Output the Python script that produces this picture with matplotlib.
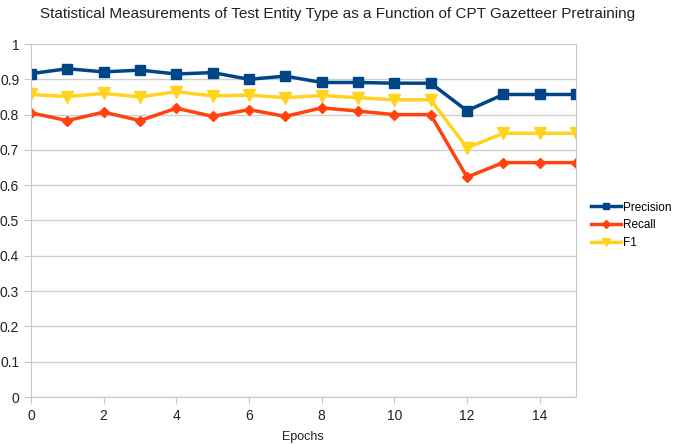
import matplotlib
matplotlib.use("Agg")
import matplotlib.pyplot as plt

epochs = list(range(16))
precision = [0.916, 0.930, 0.921, 0.926, 0.915, 0.919, 0.900, 0.909, 0.891, 0.891, 0.889, 0.889, 0.811, 0.857, 0.857, 0.857]
recall = [0.805, 0.783, 0.807, 0.783, 0.818, 0.795, 0.814, 0.795, 0.819, 0.810, 0.800, 0.800, 0.623, 0.664, 0.664, 0.664]
f1 = [0.857, 0.851, 0.860, 0.850, 0.865, 0.853, 0.855, 0.848, 0.854, 0.848, 0.842, 0.842, 0.706, 0.747, 0.747, 0.747]
yticks = [0, 0.1, 0.2, 0.3, 0.4, 0.5, 0.6, 0.7, 0.8, 0.9, 1]
ylabels = ["0", "0.1", "0.2", "0.3", "0.4", "0.5", "0.6", "0.7", "0.8", "0.9", "1"]
xticks = [0, 2, 4, 6, 8, 10, 12, 14]

plt.rcParams['font.family'] = ['Liberation Sans', 'DejaVu Sans']

fig = plt.figure(figsize=(6.73, 4.44), dpi=100)
ax = fig.add_axes([31/673, 1 - 397/444, (576-31)/673, (397-44)/444])

ax.plot(epochs, precision, color="#004586", marker="s", markersize=6.5, linewidth=2.5, label="Precision")
ax.plot(epochs, recall, color="#ff420e", marker="D", markersize=5, linewidth=2.5, label="Recall")
ax.plot(epochs, f1, color="#ffd320", marker="v", markersize=8, linewidth=2.5, label="F1")

ax.set_xlim(0, 15)
ax.set_ylim(0, 1)
ax.set_yticks(yticks)
ax.set_yticklabels(ylabels)
ax.set_xticks(xticks)
ax.grid(axis="y", color="#d0d0d0", linewidth=1)
ax.set_axisbelow(True)
for s in ax.spines.values():
    s.set_color("#c8c8c8")
ax.spines["top"].set_visible(False)
ax.tick_params(axis="both", colors="#c8c8c8", labelcolor="#222222", labelsize=10, length=5)

fig.text(303/673, 1 - 437/444, "Epochs", ha="center", va="center", fontsize=9, color="#222222")
fig.text(338/673, 1 - 14/444, "Statistical Measurements of Test Entity Type as a Function of CPT Gazetteer Pretraining",
         ha="center", va="center", fontsize=11, color="#222222")

leg = ax.legend(loc="center left", bbox_to_anchor=(1.028, 0.486), frameon=False, fontsize=8.5,
                handlelength=2.5, labelspacing=0.5, handletextpad=0.15, borderaxespad=0, borderpad=0,
                markerscale=0.75)
fig.savefig("out.png", dpi=100, facecolor="white")
